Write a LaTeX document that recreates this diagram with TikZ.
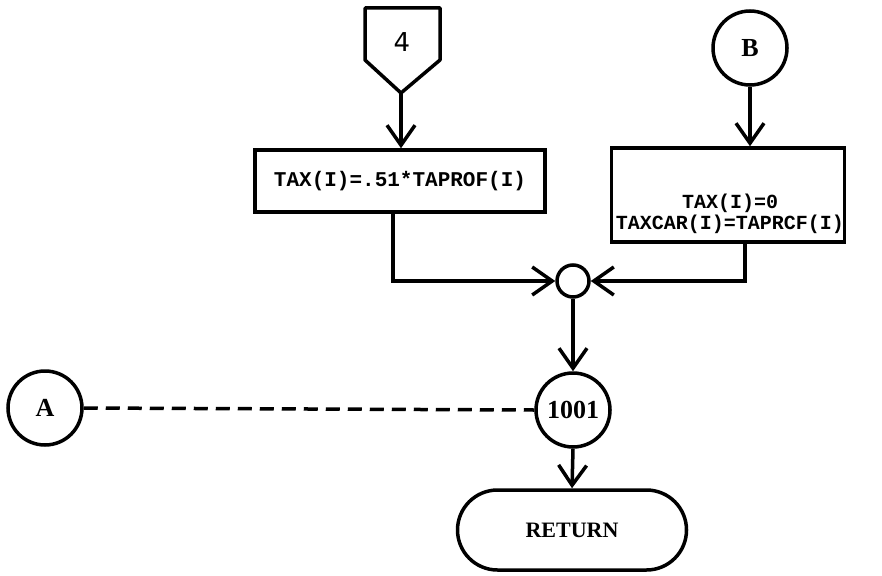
\documentclass[tikz,border=0pt]{standalone}
\usepackage{fontspec}
\setmainfont{Liberation Serif}
\newfontfamily\printfont{Liberation Mono}
\newfontfamily\handfont{DejaVu Sans}
\usetikzlibrary{arrows.meta,shapes.misc}
\begin{document}
\begin{tikzpicture}[x=1pt,y=-1pt,
  line width=3.5pt,
  flow/.style={-{Straight Barb[length=20pt,width=28pt,line width=3.5pt]}},
  procbox/.style={draw,rectangle,inner sep=0pt,align=center,font=\printfont\bfseries\fontsize{21}{24}\selectfont},
  conn/.style={draw,circle,inner sep=0pt,minimum size=74pt,font=\bfseries\fontsize{26}{28}\selectfont},
  junction/.style={draw,circle,inner sep=0pt,minimum size=32pt},
  terminal/.style={draw,rounded rectangle,inner sep=0pt,minimum width=229pt,minimum height=80pt,font=\bfseries\fontsize{22}{24}\selectfont}]
\useasboundingbox (0,0) rectangle (882,575);

% off-page connector 4
\draw[line join=round] (365,8) -- (440,8) -- (440,60) -- (401,93) -- (365,60) -- cycle;
\node[font=\handfont\fontsize{26}{28}\selectfont] (off4) at (402,42) {4};
\coordinate (tip4) at (401,93);

% on-page connector B
\node[conn] (B) at (750,48) {B};

% process boxes
\node[procbox,minimum width=290pt,minimum height=62pt] (box1) at (400,181) {TAX(I)=.51*TAPROF(I)};
\node[procbox,minimum width=233pt,minimum height=94pt] (box2) at (728,195) {};
\node[align=center,inner sep=0pt,font=\printfont\bfseries\fontsize{20}{21}\selectfont] (box2text) at (730,214) {TAX(I)=0\\TAXCAR(I)=TAPRCF(I)};

% junction, label 1001, connector A, return
\node[junction] (junc) at (573,281) {};
\node[conn] (n1001) at (573,410) {1001};
\node[conn] (A) at (45,408) {A};
\node[terminal] (ret) at (572,530) {RETURN};

% flow lines
\draw[flow] (tip4) -- (tip4 |- box1.north);
\draw[flow] (B.south) -- (B.south |- box2.north);
\draw[flow] ([xshift=-7pt]box1.south) |- (junc.west);
\draw[flow] ([xshift=17pt]box2.south) |- (junc.east);
\draw[flow] (junc.south) -- (n1001.north);
\draw[flow] (n1001.south) -- (ret.north);
\draw[dash pattern=on 14pt off 8pt] (A.east) -- (n1001.west);
\end{tikzpicture}
\end{document}
